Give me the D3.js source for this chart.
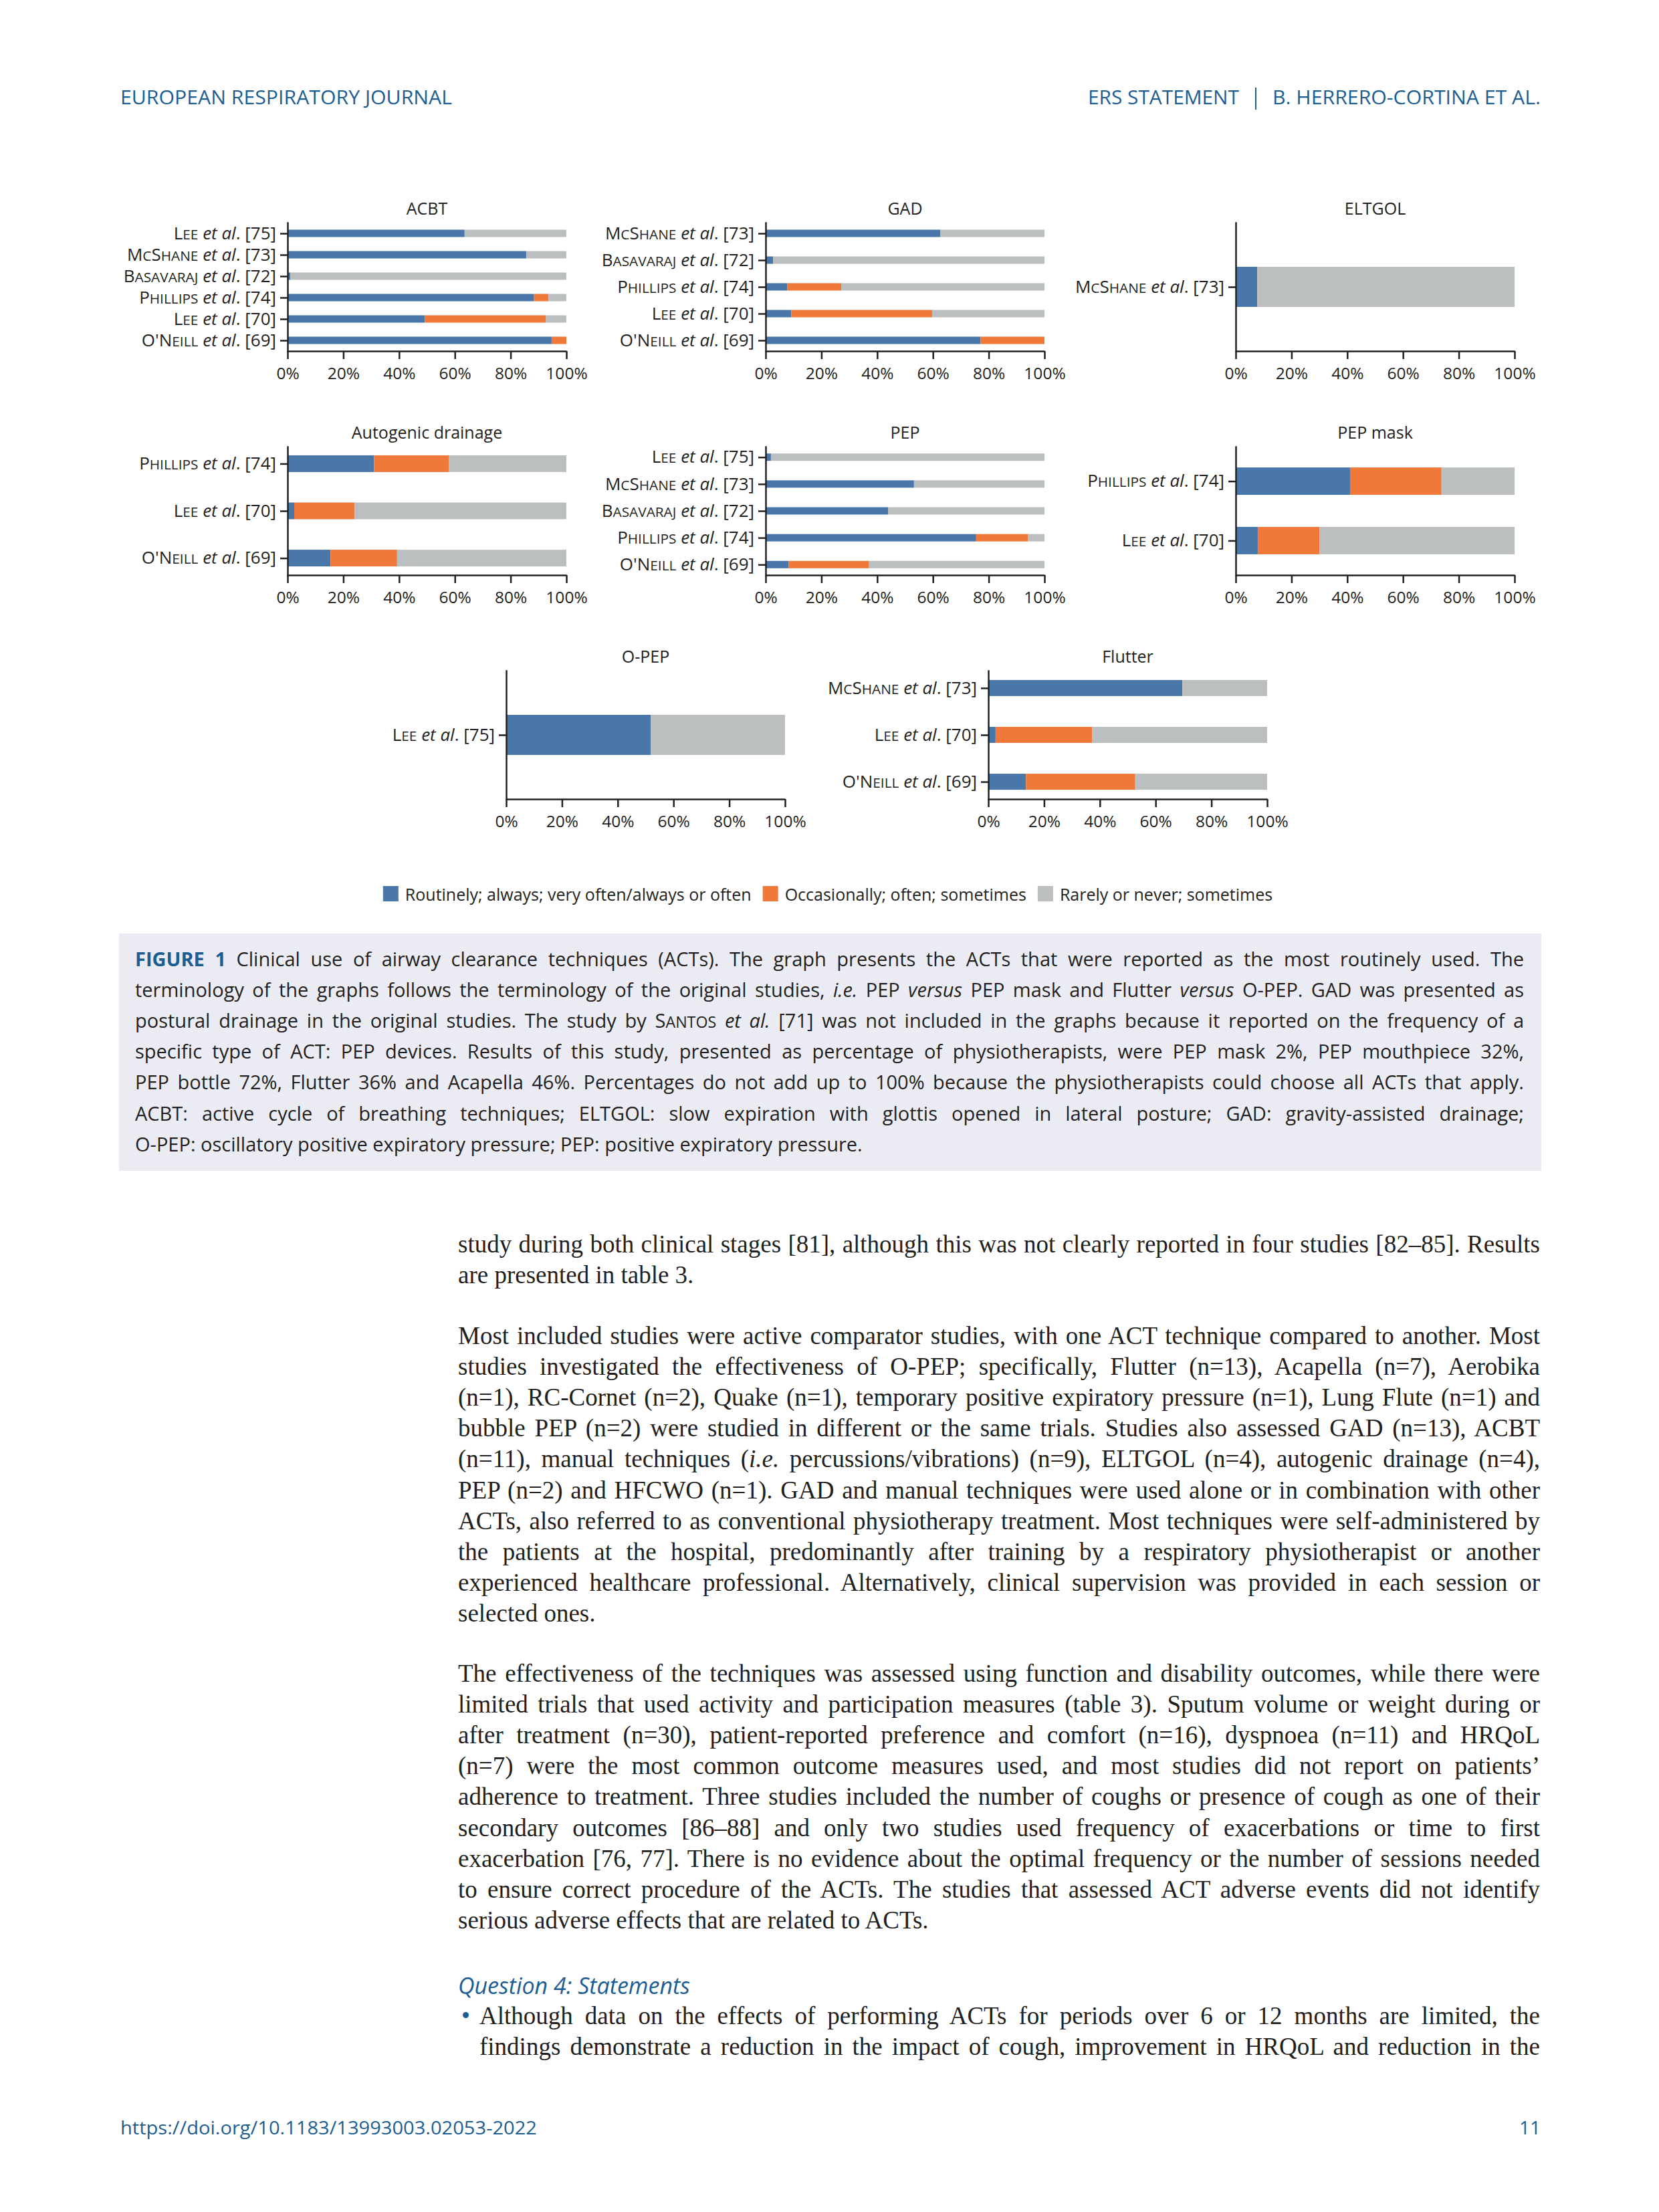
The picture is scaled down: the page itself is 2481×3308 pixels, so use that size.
<!DOCTYPE html>
<html>
<head>
<meta charset="utf-8">
<script src="https://cdn.jsdelivr.net/npm/d3@7"></script>
<style>
  body { margin: 0; background: #fff; }
  #page { position: relative; width: 2481px; height: 3308px; overflow: hidden; background: #fff; }
  #page svg { position: absolute; left: 0; top: 0; }
  .ln { position: absolute; white-space: nowrap; }
  .sm { font-size: 0.8em; }
</style>
</head>
<body>
<div id="page"></div>
<script>
// ---- data ----
var acbtStudies = ["Lee [75]", "McShane [73]", "Basavaraj [72]", "Phillips [74]", "Lee [70]", "O'Neill [69]"];
var acbtRoutine = [63.5, 85.6, 1.0, 88.4, 49.2, 94.7];
var acbtOccasional = [0, 0, 0, 5.2, 43.5, 5.3];
var acbtRarely = [36.5, 14.4, 99.0, 6.4, 7.3, 0];

var gadStudies = ["McShane [73]", "Basavaraj [72]", "Phillips [74]", "Lee [70]", "O'Neill [69]"];
var gadRoutine = [62.7, 2.7, 7.7, 9.2, 77.1];
var gadOccasional = [0, 0, 19.4, 50.5, 22.9];
var gadRarely = [37.3, 97.3, 72.9, 40.3, 0];

var eltgolStudies = ["McShane [73]"];
var eltgolRoutine = [7.7];
var eltgolOccasional = [0];
var eltgolRarely = [92.3];

var autoStudies = ["Phillips [74]", "Lee [70]", "O'Neill [69]"];
var autoRoutine = [31.0, 2.4, 15.4];
var autoOccasional = [26.8, 21.7, 23.9];
var autoRarely = [42.2, 75.9, 60.7];

var pepStudies = ["Lee [75]", "McShane [73]", "Basavaraj [72]", "Phillips [74]", "O'Neill [69]"];
var pepRoutine = [1.9, 53.2, 43.9, 75.5, 8.3];
var pepOccasional = [0, 0, 0, 18.5, 28.8];
var pepRarely = [98.1, 46.8, 56.1, 6.0, 62.9];

var maskStudies = ["Phillips [74]", "Lee [70]"];
var maskRoutine = [41.0, 7.9];
var maskOccasional = [32.8, 22.1];
var maskRarely = [26.2, 70.0];

var opepStudies = ["Lee [75]"];
var opepRoutine = [51.9];
var opepOccasional = [0];
var opepRarely = [48.1];

var flutterStudies = ["McShane [73]", "Lee [70]", "O'Neill [69]"];
var flutterRoutine = [69.6, 2.6, 13.5];
var flutterOccasional = [0, 34.7, 39.2];
var flutterRarely = [30.4, 62.7, 47.3];

var xTicks = [0, 20, 40, 60, 80, 100];
var seriesKeys = ["routine", "occasional", "rarely"];
var seriesNames = ["Routinely; always; very often/always or often", "Occasionally; often; sometimes", "Rarely or never; sometimes"];

// ---- layout ----
var colors = { routine: "#4a77a9", occasional: "#f0793a", rarely: "#bcbfbf" };
var ink = "#231f20", blue = "#1c5d92";
var sans = "'Open Sans', 'Noto Sans', sans-serif";
var serif = "'Liberation Serif', 'DejaVu Serif', serif";

var panels = [
  { title: "ACBT", studies: acbtStudies, routine: acbtRoutine, occasional: acbtOccasional, rarely: acbtRarely, x: 430, y: 333, pad: 0.5, bar: 11, ty: 312 },
  { title: "GAD", studies: gadStudies, routine: gadRoutine, occasional: gadOccasional, rarely: gadRarely, x: 1145, y: 333, pad: 0.4, bar: 11, ty: 312 },
  { title: "ELTGOL", studies: eltgolStudies, routine: eltgolRoutine, occasional: eltgolOccasional, rarely: eltgolRarely, x: 1848, y: 333, pad: 0.5, bar: 60, ty: 312 },
  { title: "Autogenic drainage", studies: autoStudies, routine: autoRoutine, occasional: autoOccasional, rarely: autoRarely, x: 430, y: 668, pad: 0.36, bar: 25, ty: 647 },
  { title: "PEP", studies: pepStudies, routine: pepRoutine, occasional: pepOccasional, rarely: pepRarely, x: 1145, y: 668, pad: 0.39, bar: 11, ty: 647 },
  { title: "PEP mask", studies: maskStudies, routine: maskRoutine, occasional: maskOccasional, rarely: maskRarely, x: 1848, y: 668, pad: 0.58, bar: 41, ty: 647 },
  { title: "O-PEP", studies: opepStudies, routine: opepRoutine, occasional: opepOccasional, rarely: opepRarely, x: 757, y: 1003, pad: 0.5, bar: 60, ty: 982 },
  { title: "Flutter", studies: flutterStudies, routine: flutterRoutine, occasional: flutterOccasional, rarely: flutterRarely, x: 1478, y: 1003, pad: 0.37, bar: 24, ty: 982 }
];
var plotW = 417, plotH = 192;

var page = d3.select("#page");
var svg = page.append("svg").attr("width", 2481).attr("height", 3308);

// small caps by hand: lowercase runs are set as capitals at 80%
function smallCaps(t, str) {
  str.match(/[a-z]+|[^a-z]+/g).forEach(function(run) {
    var s = t.append("tspan").text(/[a-z]/.test(run) ? run.toUpperCase() : run);
    if (/[a-z]/.test(run)) s.attr("font-size", "0.8em");
  });
}

// header
svg.append("text").attr("x", 180).attr("y", 156).attr("fill", blue)
  .attr("font-family", sans).attr("font-size", 30).attr("textLength", 496).attr("lengthAdjust", "spacingAndGlyphs")
  .text("EUROPEAN RESPIRATORY JOURNAL");
svg.append("text").attr("x", 2304).attr("y", 156).attr("fill", blue).attr("text-anchor", "end")
  .attr("font-family", sans).attr("font-size", 30).attr("textLength", 401).attr("lengthAdjust", "spacingAndGlyphs")
  .text("B. HERRERO-CORTINA ET AL.");
svg.append("line").attr("x1", 1878).attr("x2", 1878).attr("y1", 131).attr("y2", 164)
  .attr("stroke", blue).attr("stroke-width", 2);
svg.append("text").attr("x", 1853).attr("y", 156).attr("fill", blue).attr("text-anchor", "end")
  .attr("font-family", sans).attr("font-size", 30).attr("textLength", 226).attr("lengthAdjust", "spacingAndGlyphs")
  .text("ERS STATEMENT");

// panels
panels.forEach(function(p) {
  var rows = p.studies.map(function(s, i) {
    return { id: i, label: s, routine: p.routine[i], occasional: p.occasional[i], rarely: p.rarely[i] };
  });
  var x = d3.scaleLinear().domain([0, 100]).range([p.x, p.x + plotW]);
  var y = d3.scalePoint().domain(rows.map(function(r) { return r.id; }))
    .range([p.y, p.y + plotH]).padding(p.pad);

  var g = svg.append("g");
  var stacked = d3.stack().keys(seriesKeys)(rows);

  g.selectAll("g.series").data(stacked).join("g")
    .attr("class", "series").attr("fill", function(d) { return colors[d.key]; })
    .selectAll("rect").data(function(d) { return d; }).join("rect")
    .attr("x", function(d) { return x(d[0]); })
    .attr("width", function(d) { return Math.max(0, x(d[1]) - x(d[0])); })
    .attr("y", function(d) { return y(d.data.id) - p.bar / 2; })
    .attr("height", p.bar);

  var xa = g.append("g").attr("transform", "translate(0," + (p.y + plotH) + ")")
    .call(d3.axisBottom(x).tickValues(xTicks).tickFormat(function(d) { return d + "%"; })
      .tickSize(12).tickPadding(13).tickSizeOuter(0));
  xa.attr("font-family", sans).attr("font-size", 24.5).attr("color", ink);
  xa.selectAll("path, line").attr("stroke-width", 2.5);

  var ya = g.append("g").attr("transform", "translate(" + p.x + ",0)")
    .call(d3.axisLeft(y).tickSize(11).tickPadding(6).tickSizeOuter(0).tickFormat(function() { return ""; }));
  ya.attr("font-family", sans).attr("font-size", 26).attr("color", ink);
  ya.selectAll("path, line").attr("stroke-width", 2.5);
  ya.select(".domain").attr("stroke-linecap", "square");
  ya.selectAll(".tick text").each(function(id) {
    var parts = rows[id].label.split(" [");
    var t = d3.select(this);
    smallCaps(t, parts[0]);
    t.append("tspan").text(" ");
    t.append("tspan").attr("font-style", "italic").text("et al");
    t.append("tspan").text(". [" + parts[1]);
  });

  g.append("text").attr("x", p.x + plotW / 2).attr("y", p.ty + 9)
    .attr("text-anchor", "middle").attr("font-family", sans).attr("font-size", 25).attr("fill", ink)
    .text(p.title);
});

// legend
var lg = svg.append("g").attr("font-family", sans).attr("font-size", 25).attr("fill", ink);
var lx = 0, items = [];
seriesKeys.forEach(function(k, i) {
  var it = lg.append("g");
  it.append("rect").attr("x", 0).attr("y", 1325).attr("width", 23).attr("height", 23).attr("fill", colors[k]);
  var t = it.append("text").attr("x", 33).attr("y", 1347).text(seriesNames[i]);
  items.push({ g: it, w: 33 + t.node().getComputedTextLength() });
});
var totalW = d3.sum(items, function(d) { return d.w; }) + 17 * (items.length - 1);
lx = 1238 - totalW / 2;
items.forEach(function(d) { d.g.attr("transform", "translate(" + lx + ",0)"); lx += d.w + 17; });

// caption box
svg.append("rect").attr("x", 178).attr("y", 1396).attr("width", 2127).attr("height", 355).attr("fill", "#ebecf3");

// footer
svg.append("text").attr("x", 180).attr("y", 3192).attr("fill", blue)
  .attr("font-family", sans).attr("font-size", 28).attr("textLength", 623).attr("lengthAdjust", "spacingAndGlyphs")
  .text("https://doi.org/10.1183/13993003.02053-2022");
svg.append("text").attr("x", 2304).attr("y", 3192).attr("fill", blue).attr("text-anchor", "end")
  .attr("font-family", sans).attr("font-size", 28).text("11");

// ---- text blocks (one element per printed line, justified) ----
function block(lines, opt) {
  lines.forEach(function(html, i) {
    var d = page.append("div").attr("class", "ln")
      .style("left", opt.left + "px").style("top", (opt.top + i * 46.1) + "px")
      .style("width", opt.width + "px").style("line-height", "46px")
      .style("font-family", opt.font).style("font-size", opt.size + "px").style("color", opt.color || ink);
    var s = d.append("span").html(html);
    var last = opt.lastLeft && i === lines.length - 1;
    if (!last) {
      var natural = s.node().getBoundingClientRect().width;
      var spaces = (s.node().textContent.match(/ /g) || []).length;
      if (spaces) s.style("word-spacing", ((opt.width - natural) / spaces) + "px");
    }
  });
}

var captionLines = [
  "<b style='color:#1c5d92'>FIGURE 1</b> Clinical use of airway clearance techniques (ACTs). The graph presents the ACTs that were reported as the most routinely used. The",
  "terminology of the graphs follows the terminology of the original studies, <i>i.e.</i> PEP <i>versus</i> PEP mask and Flutter <i>versus</i> O-PEP. GAD was presented as",
  "postural drainage in the original studies. The study by S<span class='sm'>ANTOS</span> <i>et al.</i> [71] was not included in the graphs because it reported on the frequency of a",
  "specific type of ACT: PEP devices. Results of this study, presented as percentage of physiotherapists, were PEP mask 2%, PEP mouthpiece 32%,",
  "PEP bottle 72%, Flutter 36% and Acapella 46%. Percentages do not add up to 100% because the physiotherapists could choose all ACTs that apply.",
  "ACBT: active cycle of breathing techniques; ELTGOL: slow expiration with glottis opened in lateral posture; GAD: gravity-assisted drainage;",
  "O-PEP: oscillatory positive expiratory pressure; PEP: positive expiratory pressure."
];
block(captionLines, { left: 202, top: 1411, width: 2077, font: sans, size: 29, lastLeft: true });

var para1 = [
  "study during both clinical stages [81], although this was not clearly reported in four studies [82–85]. Results",
  "are presented in table 3."
];
var para2 = [
  "Most included studies were active comparator studies, with one ACT technique compared to another. Most",
  "studies investigated the effectiveness of O-PEP; specifically, Flutter (n=13), Acapella (n=7), Aerobika",
  "(n=1), RC-Cornet (n=2), Quake (n=1), temporary positive expiratory pressure (n=1), Lung Flute (n=1) and",
  "bubble PEP (n=2) were studied in different or the same trials. Studies also assessed GAD (n=13), ACBT",
  "(n=11), manual techniques (<i>i.e.</i> percussions/vibrations) (n=9), ELTGOL (n=4), autogenic drainage (n=4),",
  "PEP (n=2) and HFCWO (n=1). GAD and manual techniques were used alone or in combination with other",
  "ACTs, also referred to as conventional physiotherapy treatment. Most techniques were self-administered by",
  "the patients at the hospital, predominantly after training by a respiratory physiotherapist or another",
  "experienced healthcare professional. Alternatively, clinical supervision was provided in each session or",
  "selected ones."
];
var para3 = [
  "The effectiveness of the techniques was assessed using function and disability outcomes, while there were",
  "limited trials that used activity and participation measures (table 3). Sputum volume or weight during or",
  "after treatment (n=30), patient-reported preference and comfort (n=16), dyspnoea (n=11) and HRQoL",
  "(n=7) were the most common outcome measures used, and most studies did not report on patients’",
  "adherence to treatment. Three studies included the number of coughs or presence of cough as one of their",
  "secondary outcomes [86–88] and only two studies used frequency of exacerbations or time to first",
  "exacerbation [76, 77]. There is no evidence about the optimal frequency or the number of sessions needed",
  "to ensure correct procedure of the ACTs. The studies that assessed ACT adverse events did not identify",
  "serious adverse effects that are related to ACTs."
];
var bullet = [
  "Although data on the effects of performing ACTs for periods over 6 or 12 months are limited, the",
  "findings demonstrate a reduction in the impact of cough, improvement in HRQoL and reduction in the"
];
block(para1, { left: 685, top: 1838, width: 1618, font: serif, size: 37, lastLeft: true });
block(para2, { left: 685, top: 1975, width: 1618, font: serif, size: 37, lastLeft: true });
block(para3, { left: 685, top: 2480, width: 1618, font: serif, size: 37, lastLeft: true });
block(["<i>Question 4: Statements</i>"], { left: 685, top: 2946, width: 1618, font: sans, size: 34, color: blue, lastLeft: true });
block(["<span style='color:#1c5d92'>•</span>"], { left: 690, top: 2992, width: 30, font: serif, size: 37, lastLeft: true });
block(bullet, { left: 717, top: 2992, width: 1586, font: serif, size: 37, lastLeft: false });
</script>
</body>
</html>
